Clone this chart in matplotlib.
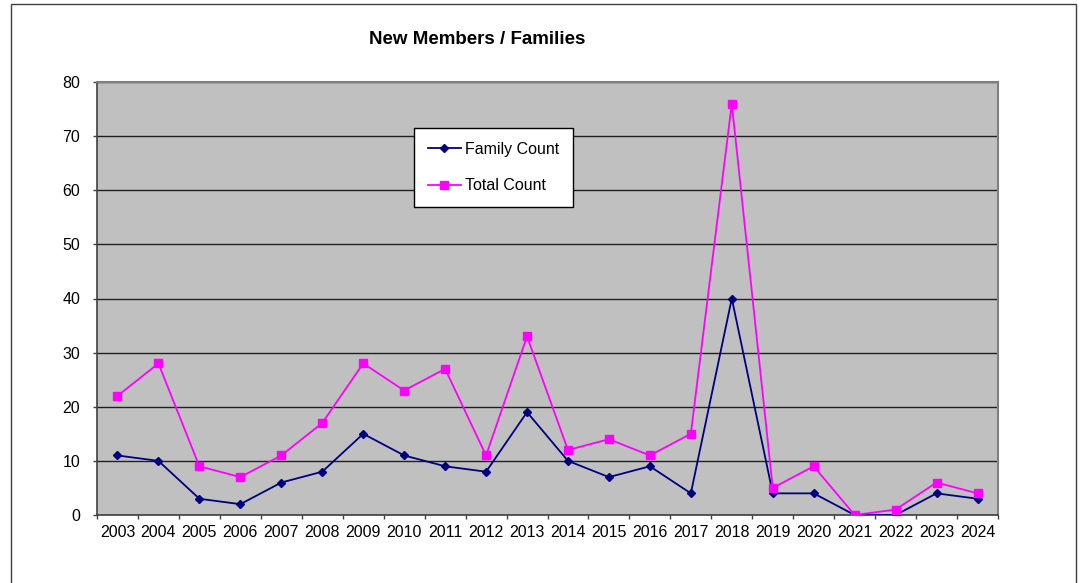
import matplotlib
matplotlib.use("Agg")
import matplotlib.pyplot as plt
from matplotlib.patches import Rectangle
from matplotlib.ticker import FixedLocator

plt.rcParams['font.family'] = ['Liberation Sans', 'DejaVu Sans']

years = ["2003", "2004", "2005", "2006", "2007", "2008", "2009", "2010", "2011",
         "2012", "2013", "2014", "2015", "2016", "2017", "2018", "2019", "2020",
         "2021", "2022", "2023", "2024"]
family_count = [11, 10, 3, 2, 6, 8, 15, 11, 9, 8, 19, 10, 7, 9, 4, 40, 4, 4, 0, 0, 4, 3]
total_count = [22, 28, 9, 7, 11, 17, 28, 23, 27, 11, 33, 12, 14, 11, 15, 76, 5, 9, 0, 1, 6, 4]
y_ticks = [0, 10, 20, 30, 40, 50, 60, 70, 80]

W, H = 1081, 583
fig = plt.figure(figsize=(W / 100, H / 100), dpi=100)
fig.patch.set_facecolor('white')

# outer chart border
fig.patches.append(Rectangle((11 / W, -0.05), (1076 - 11) / W, 1 - 4 / H + 0.05,
                             transform=fig.transFigure, fill=False,
                             edgecolor='#404040', linewidth=1.0))

left, right, top, bottom = 97 / W, 998 / W, 1 - 82 / H, 1 - 515 / H
ax = fig.add_axes([left, bottom, right - left, top - bottom])
ax.set_facecolor('#C0C0C0')

x = list(range(len(years)))
ax.plot(x, family_count, color='#000080', linewidth=1.3, marker='D',
        markersize=4.5, label='Family Count', zorder=3)
ax.plot(x, total_count, color='#FF00FF', linewidth=1.3, marker='s',
        markersize=5.5, label='Total Count', zorder=3)

ax.set_xlim(-0.5, len(years) - 0.5)
ax.set_ylim(0, 80)
ax.set_yticks(y_ticks)
ax.set_yticklabels([str(v) for v in y_ticks], fontsize=11.5)
ax.set_xticks(x)
ax.set_xticklabels(years, fontsize=11.5)
ax.xaxis.set_minor_locator(FixedLocator([i - 0.5 for i in range(len(years) + 1)]))
ax.tick_params(axis='x', which='major', length=0, pad=7)
ax.tick_params(axis='x', which='minor', length=3, width=1, color='#404040', direction='out')
ax.tick_params(axis='y', which='major', length=3, width=1, color='#404040', direction='out', pad=9)

ax.yaxis.grid(True, color='#202020', linewidth=1.0)
ax.set_axisbelow(True)

for s in ['top', 'right']:
    ax.spines[s].set_color('#808080')
    ax.spines[s].set_linewidth(1.5)
for s in ['left', 'bottom']:
    ax.spines[s].set_color('#404040')
    ax.spines[s].set_linewidth(1.2)

fig.text(477 / W, 1 - 39 / H, 'New Members / Families', ha='center', va='center',
         fontsize=13.5, fontweight='bold')

leg = ax.legend(loc='upper left', bbox_to_anchor=(414 / W, 1 - 128 / H),
                bbox_transform=fig.transFigure, borderaxespad=0, fontsize=11.5,
                frameon=True, fancybox=False, shadow=False, labelspacing=1.35,
                borderpad=0.85, handlelength=2.1, handletextpad=0.25)
leg.get_frame().set_edgecolor('black')
leg.get_frame().set_linewidth(1.0)
leg.get_frame().set_facecolor('white')
leg.get_frame().set_alpha(1.0)

fig.savefig('out.png', dpi=100)
